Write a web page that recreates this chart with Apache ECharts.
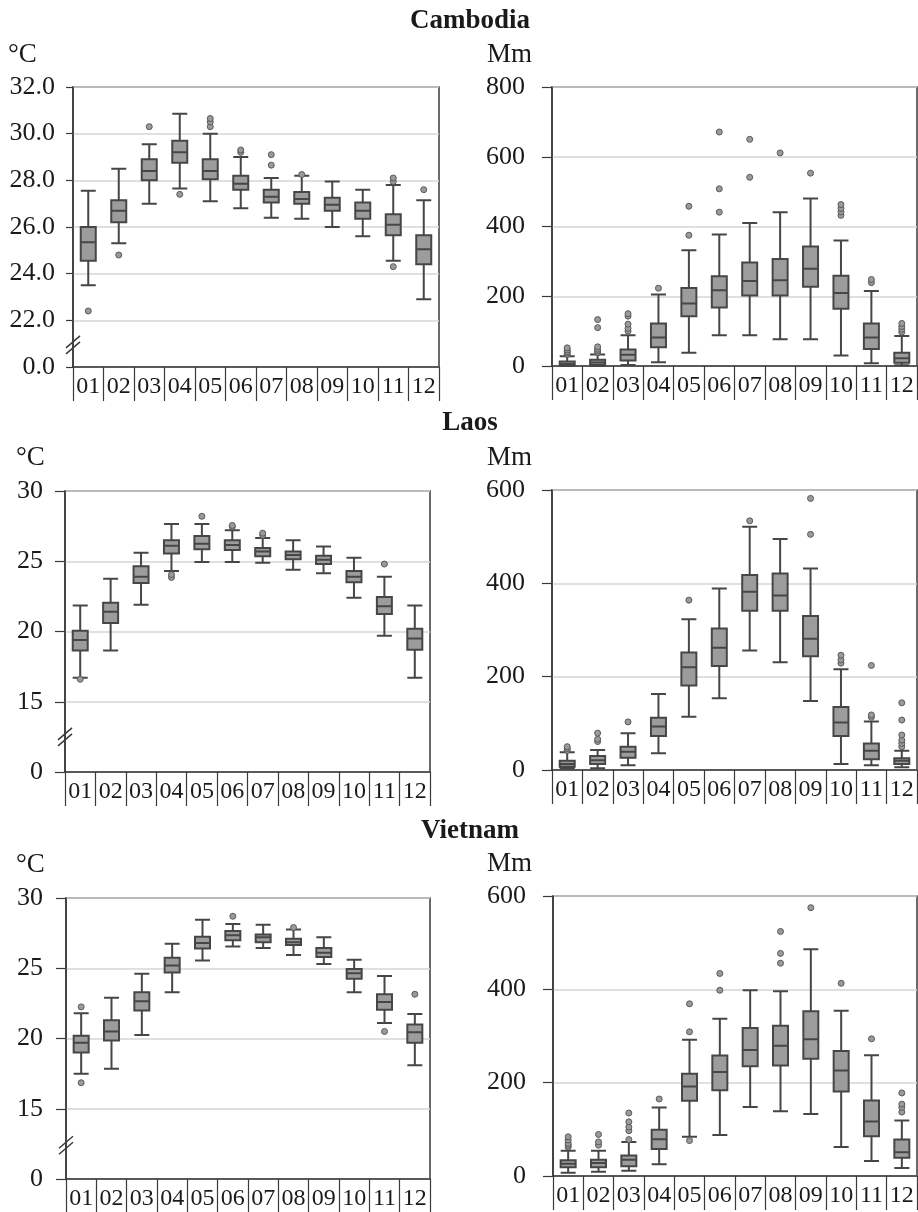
<!DOCTYPE html>
<html lang="en">
<head>
	<meta charset="UTF-8">
	<title>Monthly temperature and rainfall boxplots</title>
	<script src="https://cdn.jsdelivr.net/npm/echarts@6/dist/echarts.min.js"></script>
	<style>
		html, body { margin: 0; padding: 0; background: #fff; }
		#chart { width: 918px; height: 1212px; }
	</style>
</head>
<body>
	<div id="chart"></div>
<script>
var months = ['01', '02', '03', '04', '05', '06', '07', '08', '09', '10', '11', '12'];

// [min, Q1, median, Q3, max] per month, outliers listed separately
var camTempBox = [
    [23.5, 24.55, 25.35, 26.0, 27.55], [25.3, 26.2, 26.7, 27.15, 28.5], [27.0, 28.0, 28.4, 28.9, 29.55],
    [27.65, 28.75, 29.2, 29.7, 30.85], [27.1, 28.05, 28.4, 28.9, 30.0], [26.8, 27.6, 27.85, 28.2, 29.0],
    [26.4, 27.05, 27.3, 27.6, 28.1], [26.35, 27.0, 27.2, 27.5, 28.2], [26.0, 26.7, 26.95, 27.25, 27.95],
    [25.6, 26.35, 26.7, 27.05, 27.6], [24.55, 25.65, 26.1, 26.55, 27.8], [22.9, 24.4, 25.05, 25.65, 27.15]
];
var camTempOut = [[22.4], [24.8], [30.3], [27.4], [30.3, 30.5, 30.65], [29.2, 29.3],
    [28.65, 29.1], [28.25], [], [], [24.3, 27.95, 28.1], [27.6]];

var camRainBox = [
    [0, 2, 6, 13, 28], [0, 3, 10, 18, 33], [3, 16, 32, 47, 88], [11, 54, 82, 122, 205],
    [38, 143, 179, 224, 332], [88, 168, 217, 257, 377], [88, 202, 244, 297, 410], [77, 202, 246, 307, 441],
    [77, 227, 279, 343, 480], [30, 164, 209, 259, 360], [8, 49, 82, 122, 215], [2, 9, 22, 38, 86]
];
var camRainOut = [[33, 37, 41, 46, 52], [38, 43, 48, 55, 110, 133], [100, 108, 120, 143, 150], [223],
    [375, 458], [441, 508, 671], [541, 650], [611], [553], [432, 442, 452, 463], [239, 248], [97, 105, 113, 122]];

var laoTempBox = [
    [16.7, 18.65, 19.4, 20.05, 21.85], [18.65, 20.6, 21.4, 22.05, 23.75], [21.9, 23.45, 23.9, 24.65, 25.6],
    [24.3, 25.55, 26.1, 26.5, 27.65], [24.95, 25.85, 26.25, 26.8, 27.65], [24.95, 25.8, 26.15, 26.5, 27.2],
    [24.9, 25.35, 25.7, 25.95, 26.65], [24.4, 25.15, 25.45, 25.7, 26.5], [24.15, 24.8, 25.1, 25.4, 26.05],
    [22.4, 23.5, 23.9, 24.3, 25.25], [19.7, 21.25, 21.8, 22.45, 23.9], [16.7, 18.7, 19.5, 20.2, 21.85]
];
var laoTempOut = [[16.6], [], [], [23.85, 24.05], [28.2], [27.45, 27.55], [26.85, 27.0], [], [], [], [24.8], []];

var laoRainBox = [
    [3, 7, 13, 20, 38], [4, 13, 21, 30, 43], [10, 26, 39, 50, 79], [36, 73, 93, 112, 163],
    [114, 181, 220, 252, 323], [154, 223, 262, 303, 389], [256, 341, 382, 418, 521], [231, 341, 374, 421, 495],
    [148, 244, 281, 330, 432], [13, 73, 102, 135, 216], [10, 23, 41, 57, 104], [6, 13, 20, 25, 41]
];
var laoRainOut = [[42, 46, 50], [61, 66, 79], [103], [], [364], [], [534], [], [505, 582],
    [229, 236, 246], [113, 118, 224], [50, 57, 64, 75, 107, 144]];

var vieTempBox = [
    [17.5, 19.0, 19.7, 20.2, 21.8], [17.85, 19.85, 20.5, 21.3, 22.9], [20.25, 22.0, 22.65, 23.3, 24.6],
    [23.3, 24.7, 25.2, 25.75, 26.75], [25.55, 26.4, 26.8, 27.25, 28.45], [26.55, 27.0, 27.35, 27.65, 28.15],
    [26.45, 26.85, 27.2, 27.4, 28.1], [25.95, 26.65, 26.85, 27.1, 27.75], [25.3, 25.8, 26.1, 26.45, 27.2],
    [23.3, 24.25, 24.65, 24.95, 25.6], [21.1, 22.05, 22.6, 23.15, 24.45], [18.1, 19.7, 20.45, 21.0, 21.75]
];
var vieTempOut = [[16.85, 22.25], [], [], [], [], [28.7], [], [27.9], [], [], [20.5], [23.15]];

var vieRainBox = [
    [7, 19, 26, 34, 54], [9, 19, 28, 35, 54], [11, 21, 35, 44, 73], [25, 58, 79, 99, 147],
    [84, 161, 192, 219, 292], [88, 184, 223, 258, 337], [148, 235, 270, 317, 398], [139, 237, 279, 322, 396],
    [133, 251, 293, 353, 486], [62, 181, 226, 268, 354], [32, 85, 117, 162, 259], [17, 39, 51, 78, 119]
];
var vieRainOut = [[62, 66, 70, 77, 84], [66, 73, 89], [78, 97, 105, 116, 135], [165], [76, 309, 369],
    [398, 434], [], [456, 477, 524], [575], [413], [294], [137, 147, 154, 178]];

var countries = ['Cambodia', 'Laos', 'Vietnam'];

var FONT = '"Liberation Serif", "DejaVu Serif", serif';
var INK = '#1a1a1a';
var LINE = '#3a3a3a';

var panels = [
    { box: camTempBox, out: camTempOut, grid: { left: 73, top: 87, width: 366, height: 280 },
      min: 20, max: 32, interval: 2, margin: 18, tick: 7, brk: 20.95,
      fmt: function (v) { return v === 20 ? '0.0' : v.toFixed(1); } },
    { box: camRainBox, out: camRainOut, grid: { left: 552, top: 87, width: 365, height: 279 },
      min: 0, max: 800, interval: 200, margin: 27, tick: 10 },
    { box: laoTempBox, out: laoTempOut, grid: { left: 65, top: 491, width: 365, height: 281 },
      min: 10, max: 30, interval: 5, margin: 22, tick: 10, brk: 12.5,
      fmt: function (v) { return v === 10 ? '0' : String(v); } },
    { box: laoRainBox, out: laoRainOut, grid: { left: 552, top: 490, width: 365, height: 280 },
      min: 0, max: 600, interval: 200, margin: 27, tick: 10 },
    { box: vieTempBox, out: vieTempOut, grid: { left: 66, top: 898, width: 364, height: 281 },
      min: 10, max: 30, interval: 5, margin: 23, tick: 10, brk: 12.4,
      fmt: function (v) { return v === 10 ? '0' : String(v); } },
    { box: vieRainBox, out: vieRainOut, grid: { left: 553, top: 896, width: 364, height: 280 },
      min: 0, max: 600, interval: 200, margin: 27, tick: 10 }
];

var grids = [], xAxes = [], yAxes = [], series = [];
panels.forEach(function (p, i) {
    grids.push(Object.assign({ show: true, borderColor: LINE, borderWidth: 1.5, backgroundColor: 'transparent' }, p.grid));
    xAxes.push({
        type: 'category', gridIndex: i, data: months, boundaryGap: true,
        axisLine: { lineStyle: { color: LINE, width: 1.5 } },
        axisTick: { show: true, interval: 0, alignWithLabel: false, length: 34, lineStyle: { color: LINE, width: 1.2 } },
        axisLabel: { interval: 0, margin: 8, fontFamily: FONT, fontSize: 24, color: INK },
        splitLine: { show: false }
    });
    yAxes.push({
        type: 'value', gridIndex: i, min: p.min, max: p.max, interval: p.interval,
        axisLine: { show: true, lineStyle: { color: LINE, width: 1.5 } },
        axisTick: { show: true, length: p.tick, lineStyle: { color: LINE, width: 1.2 } },
        axisLabel: { margin: p.margin, fontFamily: FONT, fontSize: 26, color: INK, formatter: p.fmt },
        splitLine: { show: true, lineStyle: { color: '#d6d6d6', width: 1.5 } }
    });
    series.push({
        type: 'boxplot', xAxisIndex: i, yAxisIndex: i, data: p.box,
        boxWidth: [15, 15],
        itemStyle: { color: '#9c9c9c', borderColor: '#464646', borderWidth: 2 }
    });
    var pts = [];
    p.out.forEach(function (list, m) {
        list.forEach(function (v) { pts.push([months[m], v]); });
    });
    series.push({
        type: 'scatter', xAxisIndex: i, yAxisIndex: i, data: pts, symbolSize: 6, z: 5,
        itemStyle: { color: '#9a9a9a', borderColor: '#5a5a5a', borderWidth: 1, opacity: 1 }
    });
});

function label(text, x, y, size, weight, align) {
    return {
        type: 'text', x: x, y: y, silent: true,
        style: { text: text, fontFamily: FONT, fontSize: size, fontWeight: weight || 'normal',
                 fill: INK, align: align || 'left', verticalAlign: 'middle' }
    };
}

var texts = [
    label(countries[0], 470, 21, 27, 'bold', 'center'),
    label(countries[1], 470, 423, 27, 'bold', 'center'),
    label(countries[2], 470, 831, 27, 'bold', 'center'),
    label('°C', 8, 55, 27), label('Mm', 487, 55, 27),
    label('°C', 16, 458, 27), label('Mm', 487, 458, 27),
    label('°C', 16, 865, 27), label('Mm', 487, 864, 27)
];

var chart = echarts.init(document.getElementById('chart'));
chart.setOption({
    animation: false,
    backgroundColor: '#fff',
    grid: grids,
    xAxis: xAxes,
    yAxis: yAxes,
    series: series,
    graphic: texts
});

// axis break marks on the temperature panels
var marks = [];
panels.forEach(function (p, i) {
    if (p.brk === undefined) return;
    var yc = chart.convertToPixel({ yAxisIndex: i }, p.brk);
    var x0 = p.grid.left;
    [-3, 3].forEach(function (d) {
        marks.push({
            type: 'line', silent: true,
            shape: { x1: x0 - 7, y1: yc + d + 6, x2: x0 + 7, y2: yc + d - 6 },
            style: { stroke: LINE, lineWidth: 1.5 }
        });
    });
});
chart.setOption({ graphic: texts.concat(marks) });
</script>
</body>
</html>
